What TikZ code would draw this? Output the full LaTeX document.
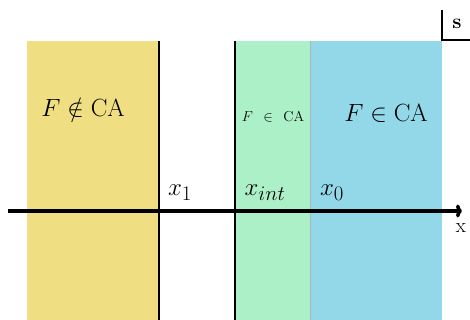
\documentclass[tikz,border=0pt]{standalone}
\usepackage{amssymb}
\usetikzlibrary{arrows.meta}
\definecolor{cyel}{RGB}{239,223,130}
\definecolor{cgrn}{RGB}{172,240,200}
\definecolor{cblu}{RGB}{146,216,232}
\tikzset{
  lbl/.style={inner sep=0pt, font=\fontsize{24.88}{28}\selectfont},
  axislbl/.style={inner sep=0pt, font=\fontsize{24.88}{28}\selectfont},
  smalllbl/.style={inner sep=0pt, font=\fontsize{14.4}{16}\selectfont},
  boundary/.style={line width=2pt},
}
\begin{document}
\begin{tikzpicture}[x=1pt,y=-1pt]
\useasboundingbox (0,0) rectangle (470,320);
\fill[cyel] (27,41) rectangle (159,320);
\fill[cgrn] (235,41) rectangle (310,320);
\fill[cblu] (310,41) rectangle (442,320);
\draw[gray!60, line width=0.6pt] (310,41) -- (310,320);
\draw[boundary] (159,41) -- (159,320);
\draw[boundary] (235,41) -- (235,320);
\coordinate (ax0) at (8,211);
\coordinate (ax1) at (462,211);
\draw[line width=3.5pt,-{To[length=6pt,width=13pt]}] (ax0) -- (ax1);
\node[font=\fontsize{20.74}{24}\selectfont, inner sep=0pt] (xl) at (461,228) {x};
\node[lbl] (nca) at (83,108) {$F\notin\mathrm{CA}$};
\node[lbl] (ca) at (386,113) {$F\in\mathrm{CA}$};
\node[smalllbl] (cas) at (273,117) {$F\;\,\in\;\,\mathrm{CA}$};
\node[axislbl] (x1) at (180,193) {$x_1$};
\node[axislbl] (xint) at (265,193) {$x_{int}$};
\node[axislbl] (x0) at (332,193) {$x_0$};
\draw[line width=2pt] (442,10) -- (442,40) -- (470,40);
\node[font=\fontsize{20.74}{24}\selectfont\bfseries, inner sep=0pt] (s) at (457,24) {s};
\end{tikzpicture}
\end{document}
